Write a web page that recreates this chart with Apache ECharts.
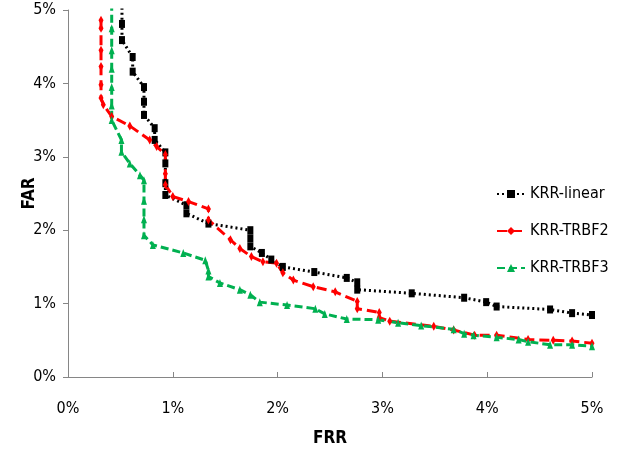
<!DOCTYPE html>
<html>
<head>
<meta charset="utf-8">
<script src="https://cdn.jsdelivr.net/npm/echarts@6/dist/echarts.min.js"></script>
<style>
  html, body { margin: 0; padding: 0; background: #fff; }
  #main { width: 623px; height: 455px; }
</style>
</head>
<body>
<div id="main"></div>
<script>
// FRR (x) / FAR (y) in percent
var linearX = [0.515, 0.515, 0.515, 0.617, 0.617, 0.725, 0.725, 0.725, 0.827, 0.827, 0.929, 0.929, 0.929, 0.929, 1.13, 1.13, 1.34, 1.74, 1.74, 1.74, 1.85, 1.94, 2.05, 2.35, 2.66, 2.76, 2.76, 3.28, 3.78, 3.99, 4.09, 4.60, 4.81, 5.0];
var linearY = [5.1, 4.81, 4.59, 4.36, 4.16, 3.95, 3.75, 3.57, 3.39, 3.23, 3.06, 2.91, 2.64, 2.48, 2.34, 2.23, 2.09, 2.0, 1.89, 1.78, 1.69, 1.60, 1.50, 1.43, 1.35, 1.29, 1.19, 1.14, 1.08, 1.02, 0.96, 0.92, 0.87, 0.845];

var trbf2X = [0.315, 0.315, 0.315, 0.315, 0.315, 0.315, 0.337, 0.417, 0.59, 0.78, 0.846, 0.929, 0.929, 0.929, 1.0, 1.15, 1.34, 1.34, 1.55, 1.64, 1.75, 1.86, 1.99, 2.05, 2.15, 2.34, 2.55, 2.76, 2.76, 2.97, 2.97, 3.07, 3.49, 3.68, 3.88, 4.09, 4.39, 4.63, 4.81, 5.0];
var trbf2Y = [4.86, 4.75, 4.45, 4.23, 3.98, 3.80, 3.71, 3.55, 3.42, 3.23, 3.14, 3.03, 2.77, 2.62, 2.46, 2.39, 2.29, 2.14, 1.87, 1.75, 1.64, 1.57, 1.55, 1.42, 1.32, 1.23, 1.16, 1.03, 0.93, 0.88, 0.81, 0.76, 0.69, 0.64, 0.57, 0.57, 0.51, 0.50, 0.49, 0.46];

var trbf3X = [0.417, 0.417, 0.417, 0.417, 0.417, 0.417, 0.417, 0.51, 0.51, 0.59, 0.687, 0.725, 0.725, 0.725, 0.725, 0.81, 1.10, 1.31, 1.34, 1.34, 1.45, 1.64, 1.74, 1.83, 2.09, 2.36, 2.45, 2.66, 2.96, 3.15, 3.37, 3.68, 3.78, 3.87, 4.09, 4.30, 4.39, 4.60, 4.81, 5.0];
var trbf3Y = [5.1, 4.75, 4.45, 4.2, 3.95, 3.7, 3.5, 3.23, 3.07, 2.91, 2.75, 2.68, 2.4, 2.15, 1.93, 1.80, 1.69, 1.59, 1.45, 1.37, 1.28, 1.19, 1.12, 1.02, 0.98, 0.93, 0.86, 0.79, 0.78, 0.74, 0.70, 0.65, 0.59, 0.57, 0.54, 0.51, 0.48, 0.44, 0.44, 0.42];

var seriesNames = ['KRR-linear', 'KRR-TRBF2', 'KRR-TRBF3'];
var tickLabelsX = ['0%', '1%', '2%', '3%', '4%', '5%'];

function pairs(xs, ys) {
    var out = [];
    for (var i = 0; i < xs.length; i++) {
        out.push([xs[i], ys[i]]);
    }
    return out;
}

var font = '"Liberation Sans Narrow", "DejaVu Sans Condensed", sans-serif';
var myChart = echarts.init(document.getElementById('main'));

var option = {
    animation: false,
    backgroundColor: '#fff',
    grid: { left: 68, right: 31, top: 10, bottom: 78 },
    legend: {
        orient: 'vertical',
        left: 491,
        top: 181,
        itemWidth: 28,
        itemHeight: 10,
        itemGap: 21,
        textStyle: { fontFamily: font, fontSize: 16, color: '#000' },
        data: seriesNames
    },
    xAxis: {
        type: 'value',
        min: 0, max: 5, interval: 1,
        name: 'FRR',
        nameLocation: 'middle',
        nameGap: 53,
        nameTextStyle: { fontFamily: font, fontSize: 17, fontWeight: 'bold', color: '#000' },
        splitLine: { show: false },
        axisLine: { lineStyle: { color: '#868686', width: 1 } },
        axisTick: { inside: true, length: 5, lineStyle: { color: '#868686' } },
        axisLabel: {
            margin: 24,
            fontFamily: font, fontSize: 16, color: '#000',
            formatter: function (v) { return tickLabelsX[Math.round(v)]; }
        }
    },
    yAxis: {
        type: 'value',
        min: 0, max: 5, interval: 1,
        name: 'FAR',
        nameLocation: 'middle',
        nameGap: 30,
        nameMoveOverlap: false,
        nameTextStyle: { fontFamily: font, fontSize: 17, fontWeight: 'bold', color: '#000' },
        splitLine: { show: false },
        axisLine: { show: true, lineStyle: { color: '#868686', width: 1 } },
        axisTick: { show: true, length: 5, lineStyle: { color: '#868686' } },
        axisLabel: {
            margin: 12,
            fontFamily: font, fontSize: 16, color: '#000',
            formatter: function (v) { return v + '%'; }
        }
    },
    series: [
        {
            name: seriesNames[0],
            type: 'line',
            clip: true,
            data: pairs(linearX, linearY),
            symbol: 'rect',
            symbolSize: [6, 8],
            itemStyle: { color: '#000' },
            lineStyle: { color: '#000', width: 3, type: [2, 3] }
        },
        {
            name: seriesNames[1],
            type: 'line',
            clip: true,
            data: pairs(trbf2X, trbf2Y),
            symbol: 'diamond',
            symbolSize: [5, 9],
            itemStyle: { color: '#ff0000' },
            lineStyle: { color: '#ff0000', width: 3, type: [10, 5] }
        },
        {
            name: seriesNames[2],
            type: 'line',
            clip: true,
            data: pairs(trbf3X, trbf3Y),
            symbol: 'triangle',
            symbolSize: [6, 8],
            itemStyle: { color: '#00b050' },
            lineStyle: { color: '#00b050', width: 3, type: [8, 4] }
        }
    ]
};

myChart.setOption(option);
</script>
</body>
</html>
